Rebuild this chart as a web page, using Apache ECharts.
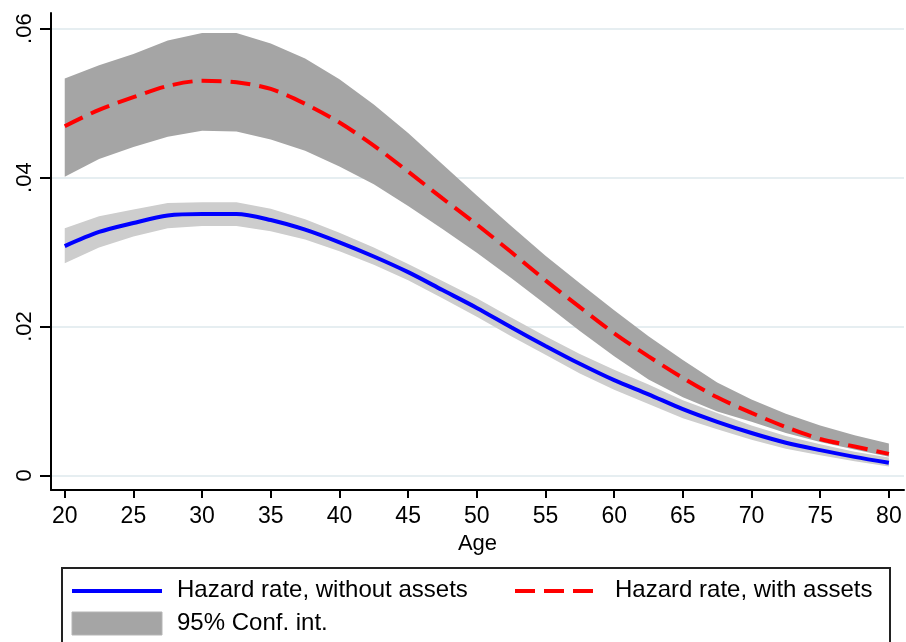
<!DOCTYPE html>
<html>
<head>
<meta charset="utf-8">
<script src="https://cdn.jsdelivr.net/npm/echarts@6/dist/echarts.min.js"></script>
<style>
html,body{margin:0;padding:0;background:#fff;}
#c{width:906px;height:642px;}
</style>
</head>
<body>
<div id="c"></div>
<script>
// ---- data ----
const ages = [20,22.5,25,27.5,30,32.5,35,37.5,40,42.5,45,47.5,50,52.5,55,57.5,60,62.5,65,67.5,70,72.5,75,77.5,80];
const hazardWithout = [0.0308,0.0327,0.0339,0.0349,0.0351,0.0351,0.0343,0.0330,0.0313,0.0294,0.0273,0.0249,0.0225,0.0199,0.0174,0.0150,0.0128,0.0109,0.0089,0.0072,0.0057,0.0044,0.0034,0.0025,0.0017];
const withoutLower = [0.0285,0.0306,0.0321,0.0332,0.0335,0.0335,0.0328,0.0317,0.0301,0.0283,0.0262,0.0238,0.0213,0.0187,0.0162,0.0137,0.0115,0.0096,0.0077,0.0062,0.0048,0.0036,0.0027,0.0019,0.0012];
const withoutUpper = [0.0332,0.0348,0.0357,0.0366,0.0367,0.0367,0.0358,0.0344,0.0326,0.0306,0.0284,0.0261,0.0238,0.0212,0.0187,0.0163,0.0142,0.0122,0.0101,0.0084,0.0067,0.0053,0.0042,0.0032,0.0024];
const hazardWith = [0.0469,0.0491,0.0508,0.0523,0.0530,0.0528,0.0519,0.0499,0.0474,0.0443,0.0408,0.0372,0.0337,0.0300,0.0262,0.0226,0.0191,0.0160,0.0131,0.0105,0.0084,0.0065,0.0049,0.0039,0.0029];
const withLower = [0.0401,0.0425,0.0441,0.0455,0.0463,0.0462,0.0451,0.0436,0.0415,0.0391,0.0362,0.0331,0.0299,0.0265,0.0230,0.0194,0.0160,0.0129,0.0105,0.0086,0.0072,0.0057,0.0045,0.0035,0.0025];
const withUpper = [0.0533,0.0551,0.0566,0.0584,0.0594,0.0594,0.0580,0.0560,0.0532,0.0498,0.0460,0.0418,0.0376,0.0335,0.0295,0.0258,0.0222,0.0187,0.0155,0.0125,0.0102,0.0083,0.0067,0.0054,0.0043];
const xTicks = [20,25,30,35,40,45,50,55,60,65,70,75,80];
const yTicks = [0,0.02,0.04,0.06];
const yTickLabels = ['0','.02','.04','.06'];
const legendLabels = ['Hazard rate, without assets','Hazard rate, with assets','95% Conf. int.'];

const FONT = 'Liberation Sans, Arial, sans-serif';
const pairs = arr => ages.map((a,i)=>[a, arr[i]]);
const bandData = (lo, hi) => ages.map((a,i)=>[a, lo[i], hi[i]]);

function bandSeries(lo, hi, color, z) {
  return {
    type:'custom', silent:true, z:z, clip:true,
    encode:{x:0, y:[1,2]},
    data: bandData(lo, hi),
    renderItem: function(params, api) {
      if (params.dataIndex !== 0) return null;
      const pts = [];
      for (let i = 0; i < ages.length; i++) pts.push(api.coord([ages[i], hi[i]]));
      for (let i = ages.length - 1; i >= 0; i--) pts.push(api.coord([ages[i], lo[i]]));
      return {type:'polygon', shape:{points:pts}, style:{fill:color, stroke:null}};
    }
  };
}

const chart = echarts.init(document.getElementById('c'), null, {renderer:'canvas'});
chart.setOption({
  animation:false,
  backgroundColor:'#ffffff',
  grid:{left:51, right:2, top:13, bottom:152, containLabel:false},
  xAxis:{
    type:'value', min:19, max:81.1,
    name:'Age', nameLocation:'middle', nameGap:34,
    nameTextStyle:{fontFamily:FONT, fontSize:22, color:'#000'},
    axisLine:{show:true, onZero:false, lineStyle:{color:'#000', width:2}},
    axisTick:{show:true, length:8, customValues:xTicks, lineStyle:{color:'#000', width:2}},
    axisLabel:{customValues:xTicks, margin:15, fontFamily:FONT, fontSize:23, color:'#000'},
    splitLine:{show:false}
  },
  yAxis:{
    type:'value', min:-0.00195, max:0.0621,
    axisLine:{show:true, onZero:false, lineStyle:{color:'#000', width:2}},
    axisTick:{show:true, length:11, customValues:yTicks, lineStyle:{color:'#000', width:2}},
    axisLabel:{customValues:yTicks, rotate:90, margin:15, fontFamily:FONT, fontSize:22, color:'#000',
      formatter: v => { const i = yTicks.findIndex(t=>Math.abs(t-v)<1e-9); return i>=0 ? yTickLabels[i] : ''; }},
    splitLine:{show:false}
  },
  series:[
    {type:'line', name:'grid', data:[], z:1, silent:true,
     markLine:{silent:true, z:0, symbol:'none', label:{show:false}, lineStyle:{color:'#e6eef1', width:2, type:'solid'},
       data: yTicks.map(v=>({yAxis:v}))}},
    bandSeries(withoutLower, withoutUpper, '#cdcdcd', 2),
    bandSeries(withLower, withUpper, '#a5a5a5', 3),
    {type:'line', name:legendLabels[0], data:pairs(hazardWithout), symbol:'none', smooth:0.3, z:4,
     lineStyle:{color:'#0000ff', width:4}},
    {type:'line', name:legendLabels[1], data:pairs(hazardWith), symbol:'none', smooth:0.3, z:5,
     lineStyle:{color:'#ff0000', width:4, type:[20,9]}}
  ],
  graphic:[
    {type:'rect', shape:{x:62, y:568, width:828, height:100}, style:{fill:'#fff', stroke:'#222', lineWidth:2}},
    {type:'line', shape:{x1:72, y1:591, x2:162, y2:591}, style:{stroke:'#0000ff', lineWidth:4}},
    {type:'text', left:177, top:578, style:{text:legendLabels[0], font:'24px '+FONT, fill:'#000'}},
    {type:'line', shape:{x1:515, y1:591, x2:600, y2:591}, style:{stroke:'#ff0000', lineWidth:4, lineDash:[20,9]}},
    {type:'text', left:615, top:578, style:{text:legendLabels[1], font:'24px '+FONT, fill:'#000'}},
    {type:'rect', shape:{x:72, y:612, width:90, height:23}, style:{fill:'#a5a5a5', stroke:'#b5b5b5', lineWidth:1}},
    {type:'text', left:177, top:611, style:{text:legendLabels[2], font:'24px '+FONT, fill:'#000'}}
  ]
});
</script>
</body>
</html>
